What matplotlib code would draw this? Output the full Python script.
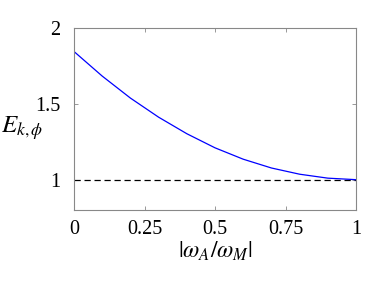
import matplotlib.pyplot as plt
import numpy as np

plt.rcParams['font.family'] = ['Liberation Serif', 'DejaVu Serif']
plt.rcParams['mathtext.fontset'] = 'stix'

# ratio |wA/wM| and E_{k,phi}
ratio = [0.0, 0.1, 0.2, 0.3, 0.4, 0.5, 0.6, 0.7, 0.8, 0.9, 1.0]
energy = [1.845, 1.683, 1.538, 1.412, 1.303, 1.21, 1.135, 1.077, 1.036, 1.01, 1.0]
baseline = [1.0, 1.0]
xticks = [0, 0.25, 0.5, 0.75, 1]
xticklabels = ['0', '0.25', '0.5', '0.75', '1']
yticks = [1, 1.5, 2]
yticklabels = ['1', '1.5', '2']

fig = plt.figure(figsize=(3.74, 2.81), dpi=100)
ax = fig.add_axes([74/374, 1 - 210/281, 282/374, 182/281])

ax.plot([0, 1], baseline, '--', color='black', lw=0.9, dashes=(5, 3))
ax.plot(ratio, energy, color='#0000ff', lw=0.9)

ax.set_xlim(0, 1)
ax.set_ylim(0.8, 2)
ax.set_xticks(xticks)
ax.set_xticklabels(xticklabels)
ax.set_yticks(yticks)
ax.set_yticklabels(yticklabels)
ax.tick_params(direction='in', top=True, right=True, length=3, width=0.6,
               color='#888888', labelsize=14.5)
ax.tick_params(axis='x', pad=7)
ax.tick_params(axis='y', pad=10)
for s in ax.spines.values():
    s.set_color('#888888')
    s.set_linewidth(0.8)

ax.set_xlabel(r'$|\omega_A/\omega_M|$', fontsize=17)
ax.xaxis.set_label_coords(0.5, -0.165)
ax.set_ylabel(r'$E_{k,\phi}$', fontsize=18, rotation=0, va='center')
ax.yaxis.set_label_coords(-0.185, 0.45)

fig.savefig('out.png', dpi=100)
